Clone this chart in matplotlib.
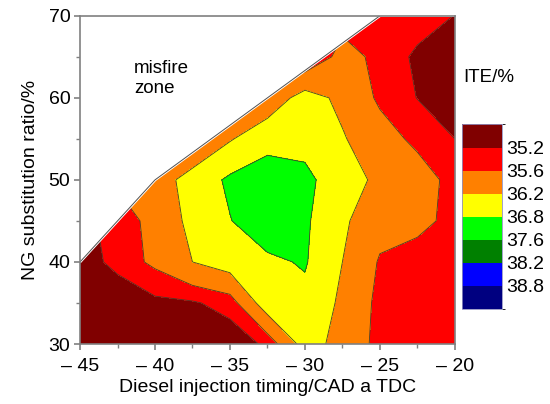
# ITE contour map: NG substitution ratio vs diesel injection timing
import numpy as np
import matplotlib
matplotlib.use("Agg")
import matplotlib.pyplot as plt
from matplotlib.colors import ListedColormap, BoundaryNorm

plt.rcParams['font.family'] = ['Liberation Sans', 'DejaVu Sans']

# grid of the map (CAD a TDC, %)
timing = [-45, -42.5, -40, -37.5, -35, -32.5, -30, -27.5, -25, -22.5, -20]
ng_ratio = [30, 35, 40, 45, 50, 55, 60, 65, 70]

# ITE/%, one row per NG ratio
# (points inside the misfire zone are only used for interpolation)
ite_30 = [34.6, 34.7, 34.8, 34.9, 34.95, 35.28, 36.45, 36.0, 35.44, 35.4, 35.35]
ite_35 = [34.7, 34.85, 35.1, 35.15, 35.36, 36.56, 36.65, 36.09, 35.46, 35.42, 35.38]
ite_40 = [34.95, 35.35, 35.7, 36.2, 36.5, 36.7, 36.85, 36.2, 35.55, 35.45, 35.4]
ite_45 = [35.0, 35.45, 35.7, 36.39, 36.78, 37.13, 36.89, 36.3, 35.8, 35.7, 35.5]
ite_50 = [35.2, 35.65, 35.9, 36.44, 36.9, 37.1, 36.95, 36.45, 36.08, 35.85, 35.43]
ite_55 = [35.2, 35.3, 35.4, 35.6, 36.15, 36.6, 36.6, 36.25, 35.83, 35.48, 35.2]
ite_60 = [35.2, 35.2, 35.3, 35.4, 35.5, 35.8, 36.45, 36.06, 35.51, 35.19, 34.9]
ite_65 = [35.0, 35.0, 35.0, 35.0, 35.0, 35.0, 35.1, 35.8, 35.47, 35.12, 34.8]
ite_70 = [35.0, 35.0, 35.0, 35.0, 35.0, 35.0, 35.0, 35.4, 35.3, 35.4, 35.19]

# misfire limit
misfire_x = [-45, -40, -25, -20]
misfire_y = [40, 50, 70, 70]

levels = [34.0, 35.2, 35.6, 36.2, 36.8, 37.6, 38.2, 38.8, 40.0]
colors = ['#800000', '#ff0000', '#ff8000', '#ffff00', '#00ff00', '#008000', '#0000ff', '#000080']
cb_labels = ['35.2', '35.6', '36.2', '36.8', '37.6', '38.2', '38.8']

xticks = [-45, -40, -35, -30, -25, -20]
xticklabels = ['\u2013 45', '\u2013 40', '\u2013 35', '\u2013 30', '\u2013 25', '\u2013 20']
yticks = [30, 40, 50, 60, 70]

Z = np.array([ite_30, ite_35, ite_40, ite_45, ite_50, ite_55, ite_60, ite_65, ite_70])
X, Y = np.meshgrid(timing, ng_ratio)

fig = plt.figure(figsize=(5.5, 4.04), dpi=100)
ax = fig.add_axes([0.1455, 0.1485, 0.6815, 0.8125])

cmap = ListedColormap(colors)
norm = BoundaryNorm(levels, cmap.N)
cs = ax.contourf(X, Y, Z, levels=levels, cmap=cmap, norm=norm)
ax.contour(X, Y, Z, levels=levels[1:-1], colors='#4a3a2a', linewidths=0.6)

# misfire zone blanked out
ax.fill_between(misfire_x, misfire_y, 70, color='white', zorder=3)
ax.plot(misfire_x[:3], misfire_y[:3], color='#505050', lw=0.7, zorder=4)

ax.text(-41.4, 64.6, 'misfire\nzone', fontsize=13.5, va='top', ha='left',
        linespacing=1.25, zorder=5)

ax.set_xlim(-45, -20)
ax.set_ylim(30, 70)
ax.set_xticks(xticks)
ax.set_xticklabels(xticklabels)
ax.set_yticks(yticks)
ax.set_xticks(np.arange(-45, -19, 2.5), minor=True)
ax.set_yticks(np.arange(30, 71, 5), minor=True)
ax.tick_params(which='major', direction='out', length=4.5, width=1.2, color='#808080',
               labelsize=14, pad=2.5)
ax.tick_params(axis='x', which='major', pad=5.5)
ax.tick_params(which='minor', direction='out', length=3, width=1.0, color='#808080')
for sp in ax.spines.values():
    sp.set_color('#808080')
    sp.set_linewidth(1.2)
    sp.set_zorder(6)

ax.set_xlabel('Diesel injection timing/CAD a TDC', fontsize=14, labelpad=3)
ax.set_ylabel('NG substitution ratio/%', fontsize=14, labelpad=7)

# legend bar
cax = fig.add_axes([0.8405, 0.235, 0.0716, 0.457])
cb = fig.colorbar(cs, cax=cax, spacing='uniform')
cb.set_ticks(levels[1:-1])
cb.set_ticklabels(cb_labels)
cax.invert_yaxis()
cax.tick_params(length=0, labelsize=14, pad=3)
cb.outline.set_edgecolor('#9090c0')
cb.outline.set_linewidth(0.6)

fig.text(0.842, 0.807, 'ITE/%', fontsize=13.5, va='center', ha='left')

fig.savefig('out.png', dpi=100)
